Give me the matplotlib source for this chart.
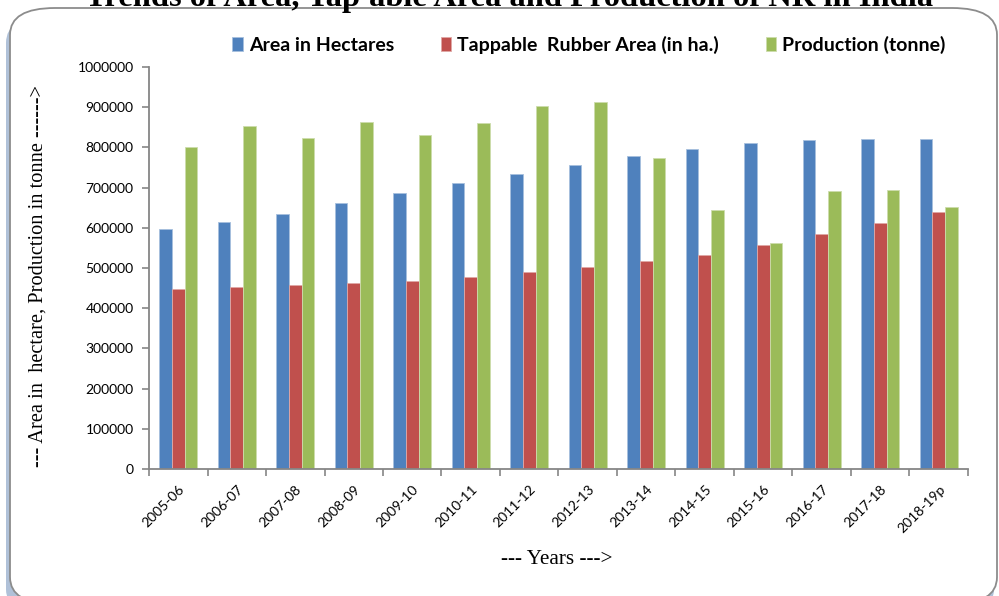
import numpy as np
import matplotlib.pyplot as plt
from matplotlib.patches import FancyBboxPatch

years = ["2005-06", "2006-07", "2007-08", "2008-09", "2009-10", "2010-11", "2011-12",
         "2012-13", "2013-14", "2014-15", "2015-16", "2016-17", "2017-18", "2018-19p"]
area_ha = [597000, 615000, 635000, 662000, 687000, 712000, 735000,
           757000, 778000, 796000, 811000, 818000, 821000, 822000]
tappable_ha = [447000, 452000, 457000, 462000, 468000, 477000, 490000,
               503000, 518000, 533000, 557000, 585000, 611000, 639000]
production_t = [802000, 852000, 824000, 864000, 830000, 861000, 903000,
                913000, 774000, 645000, 562000, 691000, 694000, 651000]
series_names = ["Area in Hectares", "Tappable  Rubber Area (in ha.)", "Production (tonne)"]
colors = ["#4F81BD", "#C0504D", "#9BBB59"]
edges = ["#A7C0DE", "#E0A8A6", "#CDDDAC"]

W, H = 999, 596
fig = plt.figure(figsize=(W / 100, H / 100), dpi=100)

# rounded chart area with a soft shadow on the left/bottom
shadow = FancyBboxPatch((6 / W, -20 / H), 988 / W, 600 / H,
                        boxstyle="round,pad=0,rounding_size=0.045",
                        transform=fig.transFigure, facecolor="#6F8FB8",
                        edgecolor="none", alpha=0.55, zorder=0)
fig.patches.append(shadow)
frame = FancyBboxPatch((10 / W, -8 / H), 987 / W, 596 / H,
                       boxstyle="round,pad=0,rounding_size=0.045",
                       transform=fig.transFigure, facecolor="white",
                       edgecolor="#8C8C8C", linewidth=1.3, zorder=1)
fig.patches.append(frame)

ax = fig.add_axes([149 / W, 1 - 469 / H, (968 - 149) / W, (469 - 67) / H])
ax.set_zorder(2)
ax.patch.set_visible(False)

x = np.arange(len(years))
bw = 0.217
for i, vals in enumerate([area_ha, tappable_ha, production_t]):
    ax.bar(x + (i - 1) * bw, vals, bw, color=colors[i], edgecolor=edges[i],
           linewidth=0.6, label=series_names[i])

ax.set_xlim(-0.5, len(years) - 0.5)
ax.set_ylim(0, 1000000)
ax.set_yticks(np.arange(0, 1000001, 100000))
ax.set_yticklabels([f"{v}" for v in range(0, 1000001, 100000)],
                   fontfamily="Lato", fontsize=10)

# Excel-style category axis: ticks between groups, labels at centres
ax.set_xticks(np.arange(-0.5, len(years), 1.0))
ax.set_xticklabels([])
ax.set_xticks(x, minor=True)
ax.set_xticklabels(years, minor=True, rotation=45, ha="right",
                   rotation_mode="anchor", fontfamily="Lato", fontsize=10)
ax.tick_params(axis="x", which="minor", length=0, pad=10)
ax.tick_params(axis="x", which="major", length=5, width=1.2, color="#868686")
ax.tick_params(axis="y", length=5, width=1.2, color="#868686", pad=6)

for s in ["top", "right"]:
    ax.spines[s].set_visible(False)
for s in ["left", "bottom"]:
    ax.spines[s].set_color("#868686")
    ax.spines[s].set_linewidth(1.3)

fig.text(38 / W, 1 - 276 / H, "--- Area in  hectare, Production in tonne ------>",
         rotation=90, ha="center", va="center", fontfamily="Liberation Serif",
         fontsize=14.7)
fig.text(557 / W, 1 - 560 / H, "--- Years --->", ha="center", va="center",
         fontfamily="Liberation Serif", fontsize=15.3)

fig.text(509 / W, 1 - 6 / H, "Trends of Area, Tap'able Area and Production of NR in India",
         ha="center", va="baseline", fontfamily="Liberation Serif",
         fontweight="bold", fontsize=23.4)

fig.legend(loc="center", bbox_to_anchor=(589 / W, 1 - 45 / H), ncol=3,
           frameon=False, handlelength=0.55, handleheight=0.7, handletextpad=0.3,
           columnspacing=2.4, prop={"family": "Lato", "weight": "bold", "size": 14})

fig.savefig("out.png", dpi=100)
